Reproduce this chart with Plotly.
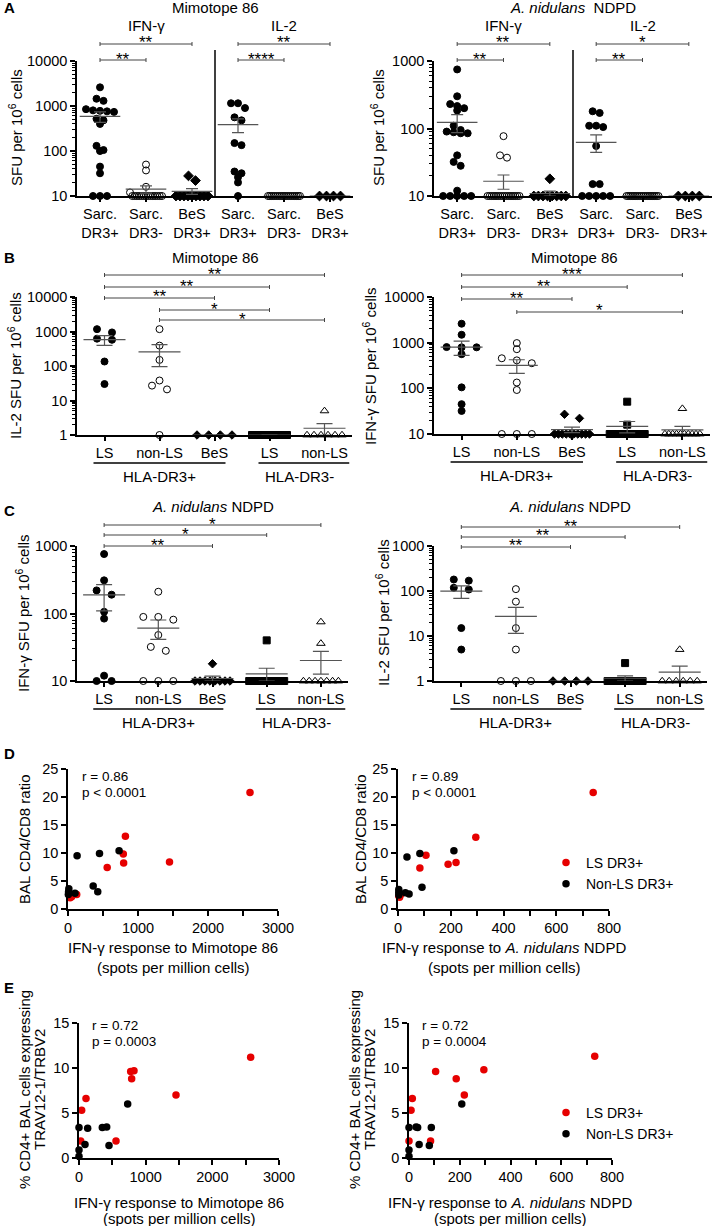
import numpy as np
import plotly.graph_objects as go

# ---------------- data ----------------
# A, Mimotope 86 (SFU per 10^6 cells)
m86_ifn_sarc_pos = [2600, 1450, 1300, 850, 800, 780, 760, 740, 520, 480, 400, 130, 105, 100, 45, 32, 10, 10, 10]
m86_ifn_sarc_neg = [50, 37, 16, 12] + [10] * 14
m86_ifn_bes_pos = [28, 22] + [10] * 9
m86_il2_sarc_pos = [1150, 1150, 900, 560, 480, 150, 135, 35, 32, 26, 20, 10]
m86_il2_sarc_neg = [10] * 18
m86_il2_bes_pos = [10] * 4
# A, A. nidulans NDPD
ndpd_ifn_sarc_pos = [750, 300, 230, 215, 200, 185, 110, 95, 90, 88, 85, 85, 40, 32, 28, 12, 10, 10, 10, 10, 10]
ndpd_ifn_sarc_neg = [77, 40, 37] + [10] * 16
ndpd_ifn_bes_pos = [18] + [10] * 8
ndpd_il2_sarc_pos = [180, 170, 110, 110, 105, 55, 15, 15, 10, 10, 10, 10, 10]
ndpd_il2_sarc_neg = [10] * 18
ndpd_il2_bes_pos = [10] * 4

# B, Mimotope 86 by lung status
b_il2_ls = [1170, 940, 620, 575, 135, 30]
b_il2_nonls = [1170, 390, 150, 38, 27, 21, 1]
b_il2_bes = [1] * 4
b_il2_ls_neg = [1] * 10
b_il2_nonls_neg = [5] + [1] * 6
b_ifn_ls = [2600, 1490, 800, 790, 790, 560, 105, 45, 32]
b_ifn_nonls = [980, 720, 455, 410, 355, 134, 92, 10, 10, 10]
b_ifn_bes = [27, 22] + [10] * 10
b_ifn_ls_neg = [51, 16] + [10] * 8
b_ifn_nonls_neg = [36] + [10] * 10

# C, A. nidulans NDPD by lung status
c_ifn_ls = [760, 310, 220, 190, 106, 84, 12, 10, 10]
c_ifn_nonls = [210, 89, 81, 89, 48, 32, 28, 10, 10, 10]
c_ifn_bes = [18] + [10] * 8
c_ifn_ls_neg = [40] + [10] * 10
c_ifn_nonls_neg = [75, 36] + [10] * 7
c_il2_ls = [180, 170, 118, 108, 15, 5]
c_il2_nonls = [110, 58, 15, 5, 1, 1, 1]
c_il2_bes = [1] * 4
c_il2_ls_neg = [2.5] + [1] * 9
c_il2_nonls_neg = [5] + [1] * 6

# D, BAL CD4/CD8 ratio vs IFN-g response
d_m86_ls_x = [2600, 1450, 820, 790, 795, 560, 124, 52, 30]
d_m86_ls_y = [20.8, 8.4, 13.0, 9.8, 8.2, 7.4, 2.6, 2.2, 2.0]
d_m86_non_x = [730, 450, 130, 360, 425, 100, 12, 8, 5]
d_m86_non_y = [10.4, 9.9, 9.5, 4.1, 3.1, 2.8, 3.6, 3.1, 2.6]
d_ndpd_ls_x = [740, 295, 220, 190, 106, 83, 10, 6, 3]
d_ndpd_ls_y = [20.8, 12.8, 8.3, 8.0, 9.6, 7.3, 2.6, 2.1, 2.3]
d_ndpd_non_x = [212, 83, 34, 91, 28, 42, 3, 3, 3]
d_ndpd_non_y = [10.4, 9.9, 9.3, 3.9, 2.9, 2.7, 3.5, 3.0, 2.5]

# E, % CD4+ BAL cells TRAV12-1/TRBV2 vs IFN-g response
e_m86_ls_x = [2575, 825, 775, 790, 1455, 105, 40, 25, 555]
e_m86_ls_y = [11.2, 9.7, 9.6, 8.8, 7.0, 6.6, 5.3, 1.9, 1.9]
e_m86_non_x = [730, 0, 130, 350, 415, 90, 450, 0, 0]
e_m86_non_y = [6.0, 3.4, 3.3, 3.4, 3.45, 1.5, 1.4, 0.9, 0.2]
e_ndpd_ls_x = [732, 105, 295, 186, 218, 13, 8, 0, 85]
e_ndpd_ls_y = [11.3, 9.6, 9.8, 8.8, 7.0, 6.6, 5.3, 1.9, 1.9]
e_ndpd_non_x = [208, 0, 28, 34, 88, 40, 80, 0, 0]
e_ndpd_non_y = [6.0, 3.4, 3.45, 3.4, 3.4, 1.5, 1.4, 0.9, 0.2]

a_labels = ["Sarc.<br>DR3+", "Sarc.<br>DR3-", "BeS<br>DR3+"] * 2
bc_labels = ["LS", "non-LS", "BeS", "LS", "non-LS"]

# ---------------- drawing ----------------
W, H = 714, 1226
RED = "#E60000"
GREY = "#555555"
FONT = "Liberation Sans, Arial, sans-serif"
TICK = 14.5
LAB = 15

def fx(x):
    return x / W

def fy(y):
    return 1 - y / H

fig = go.Figure()
annotations = []
shapes = []


def axis_base():
    return dict(showline=True, linecolor="black", linewidth=1.5, ticks="outside",
                tickwidth=1.5, tickcolor="black", ticklen=5, showgrid=False,
                zeroline=False, automargin=False, fixedrange=True,
                tickfont=dict(size=TICK, color="black"))


def add_axes(n, xdom, ydom, xa, ya):
    s = "" if n == 1 else str(n)
    xd = axis_base()
    xd.update(domain=[fx(xdom[0]), fx(xdom[1])], anchor="y" + s)
    xd.update(xa)
    yd = axis_base()
    yd.update(domain=[fy(ydom[1]), fy(ydom[0])], anchor="x" + s)
    yd.update(ya)
    fig.update_layout({"xaxis" + s: xd, "yaxis" + s: yd})
    return "x" + s, "y" + s


def log_axis(lo, hi):
    major = [10 ** k for k in range(lo, hi + 1)]
    minor = [m * 10 ** k for k in range(lo, hi) for m in range(2, 10)]
    return dict(type="log", range=[lo, hi], tickmode="array", tickvals=major,
                ticktext=[str(v) for v in major],
                minor=dict(tickmode="array", tickvals=minor, ticks="outside", ticklen=3,
                           tickwidth=1, tickcolor="black"))


def cat_axis(labels):
    n = len(labels)
    return dict(range=[-0.5, n - 0.5], tickmode="array", tickvals=list(range(n)),
                ticktext=labels, ticklen=4)


def swarm(vals, ppd, step, maxw):
    # spread points that would overlap on the value axis side by side
    key = np.log10(vals) * ppd
    order = np.argsort(-key, kind="stable")
    groups = []
    for i in order:
        if groups and key[groups[-1][0]] - key[i] < 5:
            groups[-1].append(i)
        else:
            groups.append([i])
    off = np.zeros(len(vals))
    for g in groups:
        n = len(g)
        st = step if n < 2 else min(step, maxw / (n - 1))
        for j, i in enumerate(g):
            off[i] = (j - (n - 1) / 2) * st
    return off


def column(ax, pos, vals, sym, size, geo):
    xa, ya = ax
    ppd, ppc, step, maxw, meanw, capw = geo
    v = np.array(vals, float)
    x = pos + swarm(v, ppd, step, maxw) / ppc
    fig.add_trace(go.Scatter(
        x=x, y=v, xaxis=xa, yaxis=ya, mode="markers", cliponaxis=False,
        marker=dict(symbol=sym, size=size, color="black", line=dict(color="black", width=1)),
        showlegend=False, hoverinfo="skip"))
    m = v.mean()
    se = v.std(ddof=1) / np.sqrt(len(v))
    fig.add_trace(go.Scatter(
        x=[pos], y=[m], xaxis=xa, yaxis=ya, mode="markers", cliponaxis=False,
        marker=dict(symbol="line-ew", size=meanw, color=GREY, line=dict(color=GREY, width=1.2)),
        error_y=dict(type="data", symmetric=False, array=[se], arrayminus=[se],
                     color=GREY, thickness=1.2, width=capw),
        showlegend=False, hoverinfo="skip"))


def text(t, x, y, size=LAB, xanchor="center", angle=0):
    annotations.append(dict(text=t, x=fx(x), y=fy(y), xref="paper", yref="paper",
                            showarrow=False, xanchor=xanchor, yanchor="middle",
                            textangle=angle, font=dict(size=size, color="black")))


def bracket(xa, i0, i1, ypx, label):
    ln = dict(color="#444444", width=1)
    shapes.append(dict(type="line", xref=xa, yref="paper", x0=i0, x1=i1,
                       y0=fy(ypx), y1=fy(ypx), line=ln))
    for i in (i0, i1):
        shapes.append(dict(type="line", xref=xa, yref="paper", x0=i, x1=i,
                           y0=fy(ypx - 2), y1=fy(ypx + 2), line=ln))
    annotations.append(dict(text=label, xref=xa, yref="paper", x=(i0 + i1) / 2, y=fy(ypx - 1),
                            yanchor="middle", showarrow=False, font=dict(size=17, color="black")))


def group_line(xa, a, b, ypx):
    shapes.append(dict(type="line", xref=xa, yref="paper", x0=a, x1=b, y0=fy(ypx), y1=fy(ypx),
                       line=dict(color="black", width=1.5)))


# ---- panel A ----
for n, xdom, lo, hi, groups, title in [
    (1, (77, 353), 1, 4,
     [m86_ifn_sarc_pos, m86_ifn_sarc_neg, m86_ifn_bes_pos, m86_il2_sarc_pos, m86_il2_sarc_neg, m86_il2_bes_pos],
     "Mimotope 86"),
    (2, (434, 712), 1, 3,
     [ndpd_ifn_sarc_pos, ndpd_ifn_sarc_neg, ndpd_ifn_bes_pos, ndpd_il2_sarc_pos, ndpd_il2_sarc_neg, ndpd_il2_bes_pos],
     "<i>A. nidulans</i>  NDPD"),
]:
    ax = add_axes(n, xdom, (61, 196), cat_axis(a_labels), log_axis(lo, hi))
    geo = (135 / (hi - lo), (xdom[1] - xdom[0]) / 6, 7, 32, 29, 6)
    syms = ["circle", "circle-open", "diamond"] * 2
    for k, vals in enumerate(groups):
        column(ax, k, vals, syms[k], 7.5 if syms[k] == "diamond" else 7, geo)
    shapes.append(dict(type="line", xref=ax[0], yref="paper", x0=2.5, x1=2.5, y0=fy(196), y1=fy(50),
                       line=dict(color="black", width=1.5)))
    cx = (xdom[0] + xdom[1]) / 2
    ppc = (xdom[1] - xdom[0]) / 6
    text(title, cx, 8)
    text("IFN-γ", xdom[0] + ppc * 1.5, 25)
    text("IL-2", xdom[0] + ppc * 4.5, 25)

# brackets in A
bracket("x", 0, 2, 44, "**")
bracket("x", 0, 1, 60, "**")
bracket("x", 3, 5, 44, "**")
bracket("x", 3, 4, 60, "****")
bracket("x2", 0, 2, 44, "**")
bracket("x2", 0, 1, 60, "**")
bracket("x2", 3, 5, 44, "*")
bracket("x2", 3, 4, 60, "**")
text("SFU per 10<sup>6</sup> cells", 16, 128, angle=-90)
text("SFU per 10<sup>6</sup> cells", 378, 128, angle=-90)

# ---- panels B and C ----
bc_syms = ["circle", "circle-open", "diamond", "square", "triangle-up-open"]
bc_sizes = [7, 7, 6.5, 7, 7.5]
for n, xdom, ydom, lo, hi, groups in [
    (3, (77, 352), (297, 435), 0, 4, [b_il2_ls, b_il2_nonls, b_il2_bes, b_il2_ls_neg, b_il2_nonls_neg]),
    (4, (434, 710), (297, 434), 1, 4, [b_ifn_ls, b_ifn_nonls, b_ifn_bes, b_ifn_ls_neg, b_ifn_nonls_neg]),
    (5, (77, 348), (546, 681), 1, 3, [c_ifn_ls, c_ifn_nonls, c_ifn_bes, c_ifn_ls_neg, c_ifn_nonls_neg]),
    (6, (434, 707), (546, 681), 0, 3, [c_il2_ls, c_il2_nonls, c_il2_bes, c_il2_ls_neg, c_il2_nonls_neg]),
]:
    ax = add_axes(n, xdom, ydom, cat_axis(bc_labels), log_axis(lo, hi))
    geo = ((ydom[1] - ydom[0]) / (hi - lo), (xdom[1] - xdom[0]) / 5, 15, 35, 30, 8)
    for k, vals in enumerate(groups):
        column(ax, k, vals, bc_syms[k], bc_sizes[k], geo)
    gy = ydom[1] + 28
    group_line(ax[0], -0.2, 2.2, gy)
    group_line(ax[0], 2.8, 4.45, gy)
    ppc = (xdom[1] - xdom[0]) / 5
    text("HLA-DR3+", xdom[0] + ppc * 1.5, gy + 13)
    text("HLA-DR3-", xdom[0] + ppc * 4.05, gy + 13)

text("Mimotope 86", 215, 257)
text("Mimotope 86", 574, 257)
bracket("x3", 0, 4, 275, "**")
bracket("x3", 0, 3, 287, "**")
bracket("x3", 0, 2, 298, "**")
bracket("x3", 1, 3, 310, "*")
bracket("x3", 1, 4, 320, "*")
bracket("x4", 0, 4, 275, "***")
bracket("x4", 0, 3, 287, "**")
bracket("x4", 0, 2, 299, "**")
bracket("x4", 1, 4, 312, "*")
text("IL-2 SFU per 10<sup>6</sup> cells", 15, 366, angle=-90)
text("IFN-γ SFU per 10<sup>6</sup> cells", 370, 366, angle=-90)

text("<i>A. nidulans</i> NDPD", 213, 507)
text("<i>A. nidulans</i> NDPD", 570, 507)
bracket("x5", 0, 4, 525, "*")
bracket("x5", 0, 3, 535, "*")
bracket("x5", 0, 2, 546, "**")
bracket("x6", 0, 4, 527, "**")
bracket("x6", 0, 3, 537, "**")
bracket("x6", 0, 2, 547, "**")
text("IFN-γ SFU per 10<sup>6</sup> cells", 22, 613, angle=-90)
text("IL-2 SFU per 10<sup>6</sup> cells", 382, 613, angle=-90)

# ---- panels D and E ----
def lin_axis(hi, dtick, mdtick):
    d = dict(range=[0, hi], tickmode="linear", tick0=0, dtick=dtick)
    if mdtick:
        d["minor"] = dict(dtick=mdtick, tick0=0, ticks="outside", ticklen=5, tickwidth=1.5,
                          tickcolor="black")
    return d


for n, xdom, ydom, xhi, xd, xm, yhi, ls_x, ls_y, non_x, non_y, leg in [
    (7, (68, 278), (769, 909), 3000, 1000, 500, 25, d_m86_ls_x, d_m86_ls_y, d_m86_non_x, d_m86_non_y, None),
    (8, (398, 609), (769, 909), 800, 200, 100, 25, d_ndpd_ls_x, d_ndpd_ls_y, d_ndpd_non_x, d_ndpd_non_y, "legend"),
    (9, (79, 279), (1023, 1158), 3000, 1000, 500, 15, e_m86_ls_x, e_m86_ls_y, e_m86_non_x, e_m86_non_y, None),
    (10, (409, 612), (1023, 1158), 800, 200, 100, 15, e_ndpd_ls_x, e_ndpd_ls_y, e_ndpd_non_x, e_ndpd_non_y, "legend2"),
]:
    xa, ya = add_axes(n, xdom, ydom, lin_axis(xhi, xd, xm), lin_axis(yhi, 5, None))
    for xs, ys, col, name in [(ls_x, ls_y, RED, "LS DR3+"), (non_x, non_y, "black", "Non-LS DR3+")]:
        fig.add_trace(go.Scatter(
            x=xs, y=ys, xaxis=xa, yaxis=ya, mode="markers", cliponaxis=False, name=name,
            marker=dict(color=col, size=7.5), showlegend=leg is not None,
            legend=leg if leg else "legend", hoverinfo="skip"))

text("r = 0.86", 80, 776, size=13.5, xanchor="left")
text("p < 0.0001", 80, 792, size=13.5, xanchor="left")
text("r = 0.89", 410, 776, size=13.5, xanchor="left")
text("p < 0.0001", 410, 792, size=13.5, xanchor="left")
text("r = 0.72", 90, 1025, size=13.5, xanchor="left")
text("p = 0.0003", 90, 1041, size=13.5, xanchor="left")
text("r = 0.72", 420, 1025, size=13.5, xanchor="left")
text("p = 0.0004", 420, 1041, size=13.5, xanchor="left")

text("BAL CD4/CD8 ratio", 25, 839, angle=-90)
text("BAL CD4/CD8 ratio", 361, 839, angle=-90)
text("% CD4+ BAL cells expressing", 24, 1090, angle=-90)
text("TRAV12-1/TRBV2", 39, 1090, angle=-90)
text("% CD4+ BAL cells expressing", 354, 1090, angle=-90)
text("TRAV12-1/TRBV2", 369, 1090, angle=-90)
text("IFN-γ response to Mimotope 86", 173, 947)
text("(spots per million cells)", 173, 967)
text("IFN-γ response to <i>A. nidulans</i> NDPD", 504, 947)
text("(spots per million cells)", 504, 967)
text("IFN-γ response to Mimotope 86", 179, 1202)
text("(spots per million cells)", 179, 1218)
text("IFN-γ response to <i>A. nidulans</i> NDPD", 510, 1202)
text("(spots per million cells)", 510, 1218)

for letter, y in [("A", 8), ("B", 257), ("C", 510), ("D", 753), ("E", 988)]:
    text("<b>%s</b>" % letter, 2, y, size=15, xanchor="left")

leg_style = dict(xanchor="left", yanchor="top", font=dict(size=14, color="black"),
                 bgcolor="rgba(0,0,0,0)", borderwidth=0, itemwidth=30, tracegroupgap=0)
fig.update_layout(
    width=W, height=H, margin=dict(l=0, r=0, t=0, b=0),
    paper_bgcolor="white", plot_bgcolor="white",
    font=dict(family=FONT, size=LAB, color="black"),
    annotations=annotations, shapes=shapes,
    legend=dict(x=fx(546), y=fy(847), **leg_style),
    legend2=dict(x=fx(546), y=fy(1097), **leg_style),
)

fig.write_html("out.html", config={"displayModeBar": False},
               post_script="document.body.style.margin='0px';")
